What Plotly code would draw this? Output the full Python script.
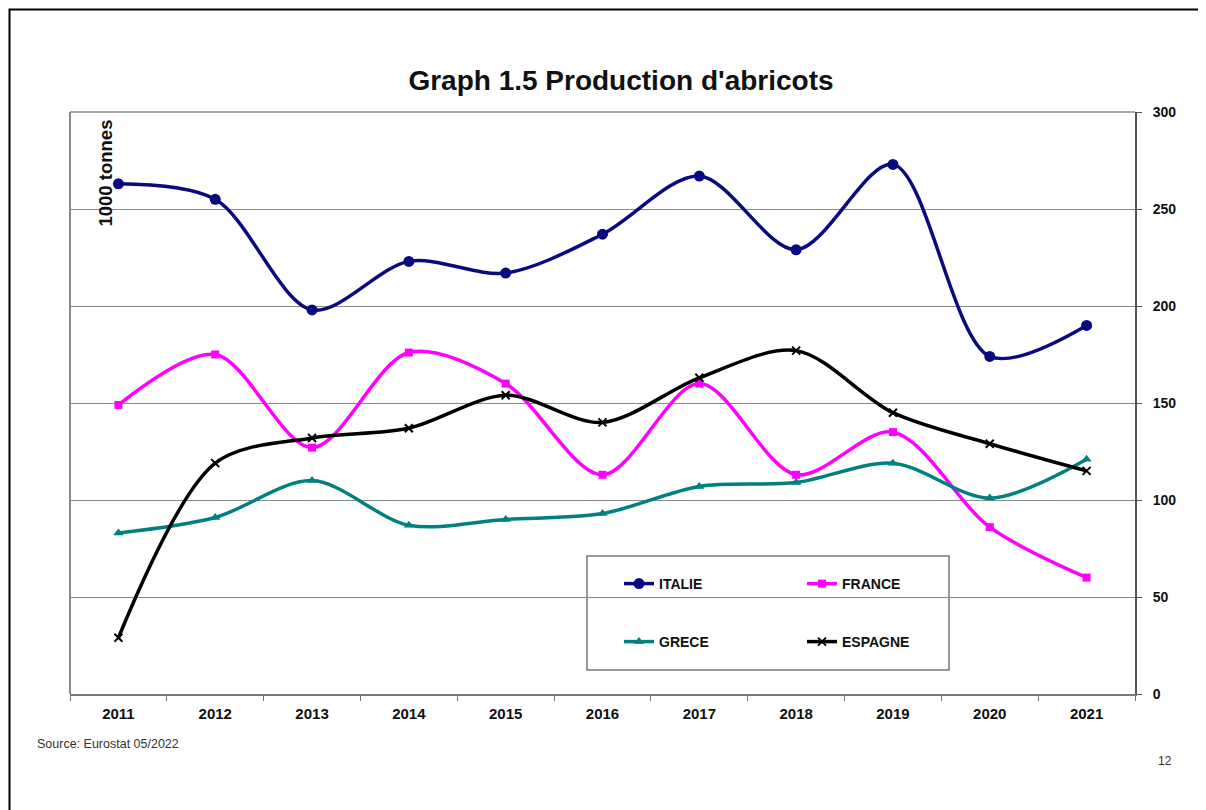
import plotly.graph_objects as go

years = ["2011", "2012", "2013", "2014", "2015", "2016", "2017", "2018", "2019", "2020", "2021"]
italie = [263, 255, 198, 223, 217, 237, 267, 229, 273, 174, 190]
france = [149, 175, 127, 176, 160, 113, 160, 113, 135, 86, 60]
grece = [83, 91, 110, 87, 90, 93, 107, 109, 119, 101, 121]
espagne = [29, 119, 132, 137, 154, 140, 163, 177, 145, 129, 115]

FONT = "Liberation Sans, Arial, sans-serif"

# page offset (browser body margin)
OFF = 8
FW, FH = 1206 - OFF, 810 - OFF

# plot-area geometry in screen pixels
L, R, T, B = 70, 1135, 112, 694
W, H = R - L, B - T


def px(x):
    return (x - L) / W


def py(y):
    return (B - y) / H


fig = go.Figure()

series = [
    ("ITALIE", italie, "#0a0a80", dict(symbol="circle", size=11), "legend"),
    ("FRANCE", france, "#ff00ff", dict(symbol="square", size=8), "legend"),
    ("GRECE", grece, "#008080", dict(symbol="triangle-up", size=9), "legend2"),
    ("ESPAGNE", espagne, "#000000", dict(symbol="x-thin-open", size=8, line=dict(width=2, color="#000000")), "legend2"),
]
for name, vals, col, mk, lg in series:
    fig.add_trace(go.Scatter(
        x=years, y=vals, name=name, mode="lines+markers",
        line=dict(color=col, width=3.5, shape="spline", smoothing=0.9),
        marker=dict(color=col, **mk),
        legend=lg,
    ))

legend_common = dict(
    orientation="h", xanchor="left", yanchor="middle",
    bgcolor="rgba(0,0,0,0)", borderwidth=0,
    entrywidth=138, entrywidthmode="pixels",
    font=dict(family=FONT, size=14, color="#111111", weight="bold"),
    itemwidth=30,
)

fig.update_layout(
    width=FW, height=FH,
    margin=dict(l=L - OFF, r=1206 - R, t=T - OFF, b=810 - B, autoexpand=False),
    paper_bgcolor="white", plot_bgcolor="white",
    font=dict(family=FONT, color="#111111"),
    title=dict(text="<b>Graph 1.5 Production d'abricots</b>", x=px(621), xref="paper",
               xanchor="center", y=1 - (80 - OFF) / FH, yanchor="middle",
               font=dict(family=FONT, size=28, color="#111111")),
    xaxis=dict(type="category", range=[-0.5, 10.5], showgrid=False,
               showline=True, linecolor="#777777", linewidth=2, mirror=False,
               ticks="outside", tickson="boundaries", ticklen=5, tickcolor="#777777",
               tickfont=dict(family=FONT, size=15, color="#111111", weight="bold"),
               ticklabelstandoff=5, fixedrange=True),
    yaxis=dict(side="right", range=[0, 300], dtick=50, tick0=0,
               showgrid=True, gridcolor="#8a8a8a", gridwidth=1.3,
               showline=True, linecolor="#555555", linewidth=2,
               ticks="outside", ticklen=5, tickcolor="#555555",
               tickfont=dict(family=FONT, size=14, color="#111111", weight="bold"),
               ticklabelstandoff=8, zeroline=False),
    legend=dict(x=px(619), y=py(584), **legend_common),
    legend2=dict(x=px(619), y=py(642), **legend_common),
    shapes=[
        dict(type="line", xref="paper", yref="paper", x0=0, x1=0, y0=0, y1=1,
             line=dict(color="#888888", width=2)),
        dict(type="line", xref="paper", yref="paper", x0=0, x1=1, y0=1, y1=1,
             line=dict(color="#8a8a8a", width=1.5)),
        dict(type="rect", xref="paper", yref="paper", x0=px(587), x1=px(949),
             y0=py(670), y1=py(556), line=dict(color="#777777", width=1.5),
             fillcolor="white", layer="below"),
        dict(type="rect", xref="paper", yref="paper", x0=px(9.5), x1=px(1215),
             y0=py(820), y1=py(9.5), line=dict(color="#000000", width=2)),
    ],
    annotations=[
        dict(text="<b>1000 tonnes</b>", xref="paper", yref="paper", x=px(105), y=py(118),
             xanchor="center", yanchor="top", textangle=-90, showarrow=False,
             font=dict(family=FONT, size=18.5, color="#111111")),
        dict(text="Source: Eurostat 05/2022", xref="paper", yref="paper", x=px(35), y=py(744),
             xanchor="left", yanchor="middle", showarrow=False,
             font=dict(family=FONT, size=12.5, color="#333333")),
        dict(text="12", xref="paper", yref="paper", x=px(1165), y=py(761),
             xanchor="center", yanchor="middle", showarrow=False,
             font=dict(family=FONT, size=12, color="#333333")),
    ],
)

fig.write_html("out.html")
